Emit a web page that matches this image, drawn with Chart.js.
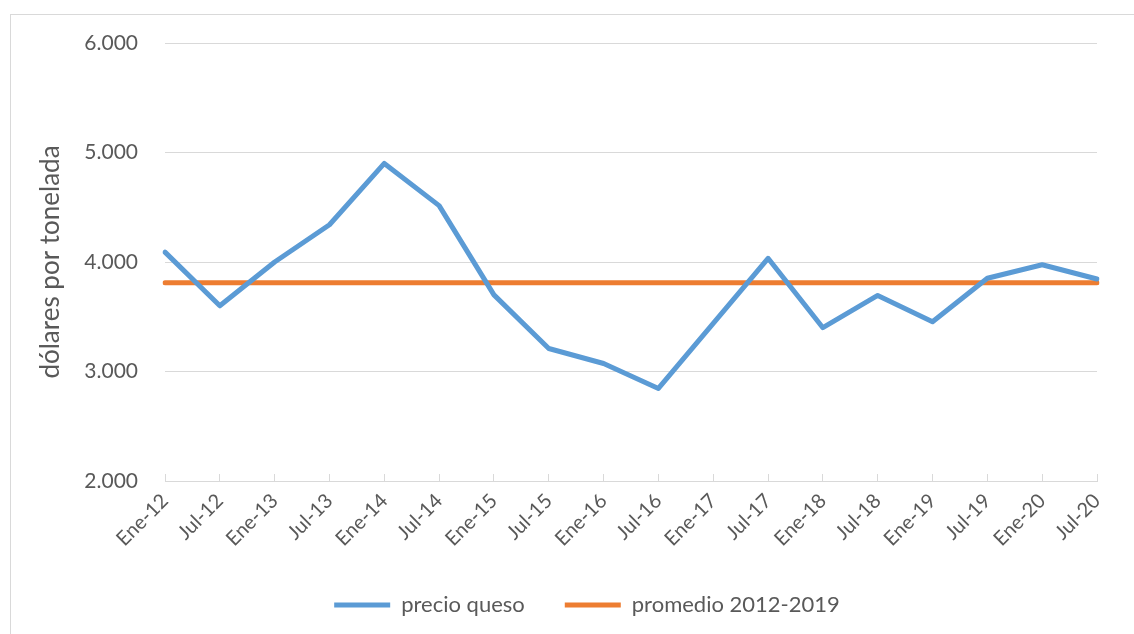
<!DOCTYPE html>
<html>
<head>
<meta charset="utf-8">
<script src="https://cdn.jsdelivr.net/npm/chart.js@4/dist/chart.umd.min.js"></script>
<style>
  body { margin: 0; background: #fff; overflow: hidden; }
  #marco { position: absolute; left: 10px; top: 14px; width: 1200px; height: 700px; border: 1px solid #d9d9d9; }
  #grafico { position: absolute; left: 0; top: 0; }
</style>
</head>
<body>
<div id="marco"></div>
<canvas id="grafico" width="1134" height="634"></canvas>
<script>
// datos
var etiquetas = ['Ene-12', 'Jul-12', 'Ene-13', 'Jul-13', 'Ene-14', 'Jul-14', 'Ene-15', 'Jul-15', 'Ene-16',
    'Jul-16', 'Ene-17', 'Jul-17', 'Ene-18', 'Jul-18', 'Ene-19', 'Jul-19', 'Ene-20', 'Jul-20']
var precioQueso = [4090, 3600, 4000, 4340, 4900, 4515, 3700, 3210, 3073,
    2845, 3440, 4034, 3400, 3695, 3455, 3852, 3975, 3845]
var promedio = [3810, 3810, 3810, 3810, 3810, 3810, 3810, 3810, 3810,
    3810, 3810, 3810, 3810, 3810, 3810, 3810, 3810, 3810]
var nombres = ['precio queso', 'promedio 2012-2019']
var colores = ['#5b9bd5', '#ed7d31']
var tituloY = 'dólares por tonelada'

function conPunto(valor) {
    return String(valor).replace(/\B(?=(\d{3})+(?!\d))/g, '.')
}

Chart.defaults.font.family = 'Lato'
Chart.defaults.color = '#595959'

var ctx = document.getElementById('grafico')
var miGrafico = new Chart(ctx, {
    type: 'line',
    data: {
        labels: etiquetas,
        datasets: [{
            label: nombres[0],
            data: precioQueso,
            borderColor: colores[0],
            backgroundColor: colores[0],
            borderWidth: 5,
            pointRadius: 0,
            tension: 0,
            borderCapStyle: 'round',
            borderJoinStyle: 'round'
        }, {
            label: nombres[1],
            data: promedio,
            borderColor: colores[1],
            backgroundColor: colores[1],
            borderWidth: 5,
            pointRadius: 0,
            tension: 0,
            borderCapStyle: 'round'
        }]
    },
    options: {
        responsive: false,
        animation: false,
        layout: { padding: { left: 77, top: 43, right: 37, bottom: 8 } },
        plugins: {
            tooltip: { enabled: false },
            legend: {
                position: 'bottom',
                labels: {
                    boxWidth: 56,
                    boxHeight: 5,
                    padding: 40,
                    font: { size: 22 },
                    color: '#595959',
                    generateLabels: function (chart) {
                        return chart.data.datasets.map(function (ds, i) {
                            return {
                                text: ds.label,
                                fillStyle: ds.borderColor,
                                strokeStyle: ds.borderColor,
                                lineWidth: 0,
                                fontColor: '#595959',
                                datasetIndex: i
                            }
                        })
                    }
                }
            }
        },
        scales: {
            x: {
                offset: false,
                grid: { drawOnChartArea: false, drawTicks: true, tickLength: -7, color: '#d9d9d9' },
                border: { color: '#d9d9d9', width: 1 },
                ticks: { minRotation: 45, maxRotation: 45, padding: 15, autoSkip: false, font: { size: 20 } },
                afterFit: function (escala) { escala.height = 73 }
            },
            y: {
                min: 2000,
                max: 6000,
                grid: { drawTicks: false, color: '#d9d9d9' },
                border: { display: false },
                ticks: {
                    stepSize: 1000,
                    padding: 27,
                    font: { size: 21 },
                    callback: function (v) { return conPunto(v) }
                },
                title: { display: true, text: tituloY, font: { size: 26 }, color: '#595959', padding: { top: -42, bottom: 4 } },
                afterFit: function (escala) { escala.width = 88 }
            }
        }
    }
})
</script>
</body>
</html>
